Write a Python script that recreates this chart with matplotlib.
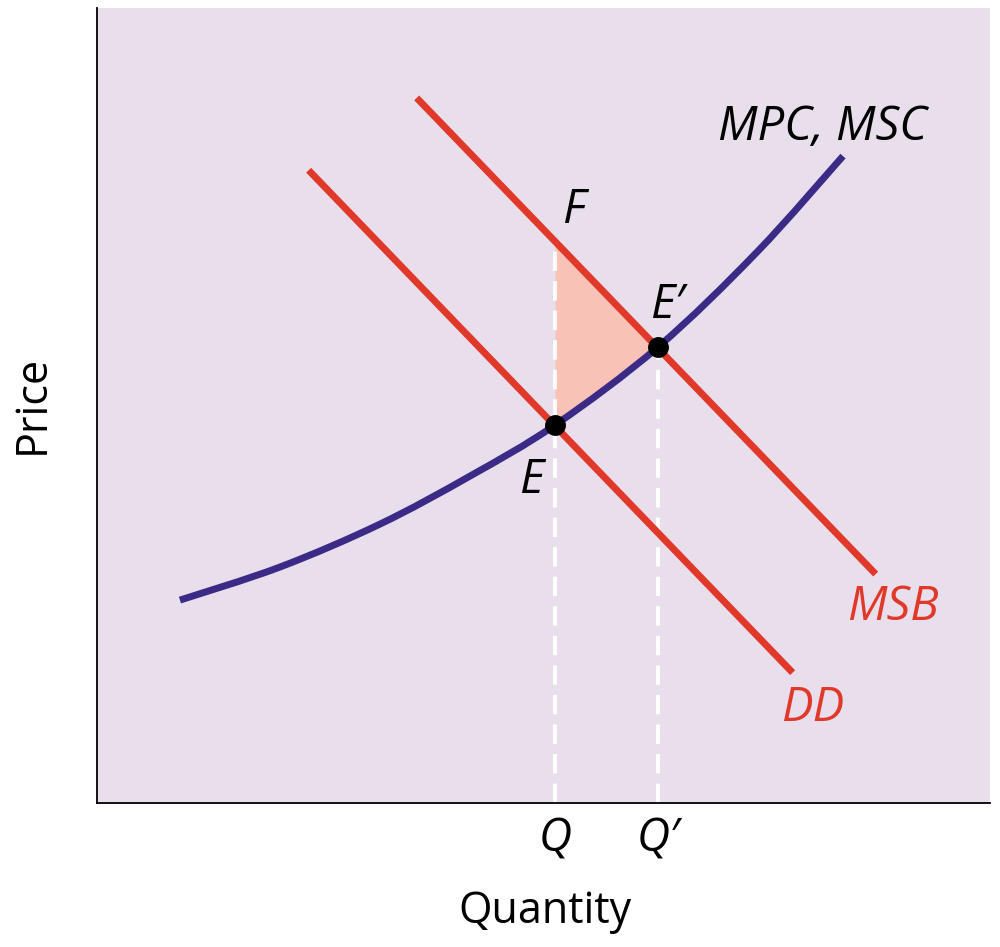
import numpy as np
import matplotlib
matplotlib.use("Agg")
import matplotlib.pyplot as plt
from matplotlib.path import Path
from matplotlib.patches import PathPatch

plt.rcParams['font.family'] = ['Open Sans', 'DejaVu Sans']

# marginal private / social cost curve (quantity, price)
mpc_q = [9.29, 20.49, 31.69, 41.77, 51.29, 62.82, 73.91, 83.54]
mpc_p = [25.53, 29.69, 35.09, 41.13, 47.55, 57.36, 69.31, 81.38]

# demand (DD) and marginal social benefit (MSB) end points
dd_q = [23.7, 77.9]
dd_p = [79.6, 16.4]
msb_q = [35.8, 87.2]
msb_p = [88.7, 28.8]

# equilibria E and E'
q_e, p_e = 51.29, 47.55
q_e2, p_e2 = 62.82, 57.36

RED = '#e0392a'
PURPLE = '#3b2a86'
BG = '#e8deec'


def msb_at(q):
    slope = (msb_p[1] - msb_p[0]) / (msb_q[1] - msb_q[0])
    return msb_p[0] + slope * (np.asarray(q) - msb_q[0])


def smooth_path(xs, ys):
    # catmull-rom through the read points, as cubic bezier segments
    pts = np.column_stack([xs, ys])
    n = len(pts)
    verts = [pts[0]]
    codes = [Path.MOVETO]
    for i in range(n - 1):
        p0 = pts[max(i - 1, 0)]
        p1 = pts[i]
        p2 = pts[i + 1]
        p3 = pts[min(i + 2, n - 1)]
        verts += [p1 + (p2 - p0) / 6, p2 - (p3 - p1) / 6, p2]
        codes += [Path.CURVE4] * 3
    return Path(verts, codes)


fig = plt.figure(figsize=(10, 9.47), dpi=100)
ax = fig.add_axes([0.097, 0.152, 0.893, 0.8395])
ax.set_facecolor(BG)
ax.set_xlim(0, 100)
ax.set_ylim(0, 100)

# shaded welfare gain between MSB and MPC
tri_q = np.array([q_e, q_e2])
ax.fill_between(tri_q, [p_e, p_e2], msb_at(tri_q), color='#f8c3b6', lw=0, zorder=1)

# dashed guides
p_f = float(msb_at(q_e))
ax.plot([q_e, q_e], [0, p_f], color='white', lw=2.8, ls=(0, (5, 2.6)), zorder=2)
ax.plot([q_e2, q_e2], [0, p_e2], color='white', lw=2.8, ls=(0, (5, 2.6)), zorder=2)

ax.plot(dd_q, dd_p, color=RED, lw=5, solid_capstyle='butt', zorder=3)
ax.plot(msb_q, msb_p, color=RED, lw=5, solid_capstyle='butt', zorder=3)
ax.add_patch(PathPatch(smooth_path(mpc_q, mpc_p), fill=False, edgecolor=PURPLE,
                       lw=5, capstyle='butt', zorder=4))

ax.plot([q_e, q_e2], [p_e, p_e2], 'o', color='black', ms=14, zorder=5)

it = dict(style='italic', fontsize=34, ha='center', va='center')
ax.text(81.2, 85.0, 'MPC, MSC', color='black', **it)
ax.text(53.3, 74.6, 'F', color='black', **it)
ax.text(63.9, 62.6, 'E\u2032', color='black', **it)
ax.text(48.6, 40.6, 'E', color='black', **it)
ax.text(89.1, 24.6, 'MSB', color=RED, **it)
ax.text(80.1, 11.9, 'DD', color=RED, **it)

ax.set_xticks([q_e, q_e2])
ax.set_xticklabels(['Q', 'Q\u2032'], fontsize=33, style='italic')
ax.tick_params(axis='x', length=0, pad=10)
ax.set_yticks([])

for s in ['top', 'right']:
    ax.spines[s].set_visible(False)
for s in ['left', 'bottom']:
    ax.spines[s].set_linewidth(1.3)
    ax.spines[s].set_color('black')

fig.text(0.545, 1 - 912 / 947, 'Quantity', fontsize=31, ha='center', va='center')
fig.text(0.032, 1 - 404 / 947, 'Price', fontsize=31, ha='center', va='center',
         rotation=90)

fig.savefig('out.png', dpi=100, facecolor='white')
